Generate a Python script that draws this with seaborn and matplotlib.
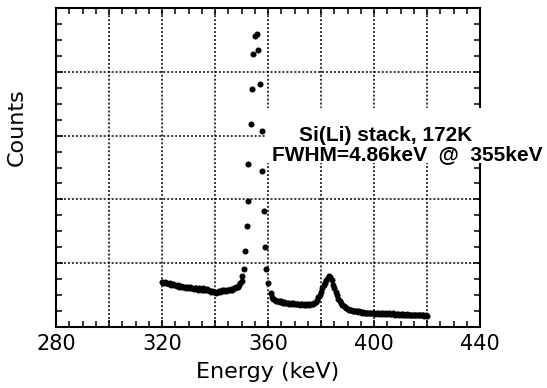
import matplotlib
matplotlib.use("Agg")
import matplotlib.pyplot as plt
from matplotlib.patches import Rectangle
from matplotlib.ticker import MultipleLocator
import seaborn as sns
import pandas as pd

# background left of the 355 keV line (keV, counts in arbitrary units)
bg_left_kev = [
    320.0, 320.5, 321.0, 321.5, 322.0, 322.5, 323.0, 323.5, 324.0, 324.5,
    325.0, 325.5, 326.0, 326.5, 327.0, 327.5, 328.0, 328.5, 329.0, 329.5,
    330.0, 330.5, 331.0, 331.5, 332.0, 332.5, 333.0, 333.5, 334.0, 334.5,
    335.0, 335.5, 336.0, 336.5, 337.0, 337.5, 338.0, 338.5, 339.0, 339.5,
    340.0, 340.5, 341.0, 341.5, 342.0, 342.5, 343.0, 343.5, 344.0, 344.5,
    345.0, 345.5, 346.0, 346.5, 347.0, 347.5, 348.0, 348.5, 349.0, 349.5,
    350.0,
]
bg_left_counts = [
    0.70, 0.69, 0.70, 0.68, 0.69, 0.67, 0.68, 0.66, 0.67, 0.65,
    0.66, 0.64, 0.65, 0.63, 0.64, 0.62, 0.63, 0.62, 0.61, 0.62,
    0.60, 0.62, 0.60, 0.61, 0.59, 0.61, 0.60, 0.58, 0.60, 0.59,
    0.58, 0.60, 0.58, 0.57, 0.59, 0.57, 0.56, 0.55, 0.56, 0.54,
    0.55, 0.53, 0.55, 0.56, 0.55, 0.57, 0.56, 0.58, 0.56, 0.57,
    0.58, 0.57, 0.59, 0.58, 0.60, 0.61, 0.62, 0.63, 0.65, 0.68,
    0.72,
]

# the photopeak itself
peak_kev = [350.2, 350.9, 351.4, 352.0, 352.4, 352.6, 353.4, 353.9, 354.5, 355.0,
            355.8, 356.1, 356.8, 357.7, 357.8, 358.4, 358.9, 359.3, 359.9, 361.2]
peak_counts = [0.80, 0.91, 1.19, 1.58, 1.97, 2.55, 3.18, 3.73, 4.29, 4.56,
               4.60, 4.35, 3.81, 3.07, 2.44, 1.82, 1.25, 0.91, 0.69, 0.53]

# background right of the line, incl. the small bump near 383 keV
bg_right_kev = [
    361.5, 362.0, 362.5, 363.0, 363.5, 364.0, 364.5, 365.0, 365.5, 366.0,
    366.5, 367.0, 367.5, 368.0, 368.5, 369.0, 369.5, 370.0, 370.5, 371.0,
    371.5, 372.0, 372.5, 373.0, 373.5, 374.0, 374.5, 375.0, 375.5, 376.0,
    376.5, 377.0, 377.5, 378.0, 378.5, 379.0, 379.5, 380.0, 380.5, 381.0,
    381.5, 382.0, 382.5, 383.0, 383.5, 384.0, 384.5, 385.0, 385.5, 386.0,
    386.5, 387.0, 387.5, 388.0, 388.5, 389.0, 389.5, 390.0, 390.5, 391.0,
    391.5, 392.0, 392.5, 393.0, 393.5, 394.0, 394.5, 395.0, 395.5, 396.0,
    396.5, 397.0, 397.5, 398.0, 398.5, 399.0, 399.5, 400.0, 400.5, 401.0,
    401.5, 402.0, 402.5, 403.0, 403.5, 404.0, 404.5, 405.0, 405.5, 406.0,
    406.5, 407.0, 407.5, 408.0, 408.5, 409.0, 409.5, 410.0, 410.5, 411.0,
    411.5, 412.0, 412.5, 413.0, 413.5, 414.0, 414.5, 415.0, 415.5, 416.0,
    416.5, 417.0, 417.5, 418.0, 418.5, 419.0, 419.5, 420.0,
]
bg_right_counts = [
    0.47, 0.44, 0.42, 0.41, 0.40, 0.41, 0.39, 0.40, 0.38, 0.39,
    0.38, 0.37, 0.38, 0.36, 0.37, 0.36, 0.37, 0.35, 0.36, 0.35,
    0.36, 0.34, 0.35, 0.36, 0.34, 0.35, 0.34, 0.35, 0.34, 0.35,
    0.35, 0.36, 0.37, 0.39, 0.42, 0.46, 0.50, 0.55, 0.60, 0.65,
    0.69, 0.73, 0.77, 0.79, 0.78, 0.73, 0.66, 0.60, 0.54, 0.49,
    0.44, 0.40, 0.37, 0.34, 0.32, 0.31, 0.29, 0.28, 0.27, 0.26,
    0.26, 0.25, 0.25, 0.24, 0.24, 0.23, 0.24, 0.23, 0.22, 0.23,
    0.22, 0.22, 0.21, 0.22, 0.21, 0.22, 0.21, 0.21, 0.20, 0.21,
    0.21, 0.20, 0.21, 0.20, 0.21, 0.20, 0.21, 0.20, 0.21, 0.20,
    0.20, 0.21, 0.20, 0.19, 0.20, 0.20, 0.19, 0.20, 0.19, 0.20,
    0.19, 0.19, 0.20, 0.19, 0.19, 0.18, 0.19, 0.19, 0.18, 0.19,
    0.18, 0.18, 0.19, 0.18, 0.18, 0.17, 0.18, 0.17,
]

x_ticks = [280, 300, 320, 340, 360, 380, 400, 420, 440]
x_tick_labels = ["280", "", "320", "", "360", "", "400", "", "440"]

annot_lines = ["Si(Li) stack, 172K", "FWHM=4.86keV  @  355keV"]

df = pd.concat([
    pd.DataFrame({"energy": bg_left_kev, "counts": bg_left_counts}),
    pd.DataFrame({"energy": peak_kev, "counts": peak_counts}),
    pd.DataFrame({"energy": bg_right_kev, "counts": bg_right_counts}),
], ignore_index=True)

sns.set_style("ticks")
plt.rcParams["font.family"] = ["DejaVu Sans"]
plt.rcParams["text.color"] = "black"
plt.rcParams["axes.labelcolor"] = "black"
plt.rcParams["xtick.color"] = "black"
plt.rcParams["ytick.color"] = "black"

fig = plt.figure(figsize=(5.47, 3.88), dpi=100)
ax = fig.add_axes([56 / 547, 1 - 326.7 / 388, 424 / 547, 318.4 / 388])

sns.scatterplot(data=df, x="energy", y="counts", color="black", s=19,
                linewidth=0, ax=ax, zorder=3)

ax.set_xlim(280, 440)
ax.set_ylim(0, 5)
ax.set_xticks(x_ticks)
ax.set_xticklabels(x_tick_labels)
ax.xaxis.set_minor_locator(MultipleLocator(5))
ax.yaxis.set_major_locator(MultipleLocator(1))
ax.yaxis.set_minor_locator(MultipleLocator(0.25))
ax.set_yticklabels([])

ax.grid(True, which="major", color="black", linestyle=(0, (1.3, 1.3)), linewidth=1.1)
ax.tick_params(which="both", direction="in", top=True, right=True, color="black", width=1.1)
ax.tick_params(which="major", length=5, labelsize=15, pad=5)
ax.tick_params(which="minor", length=4)
for sp in ax.spines.values():
    sp.set_linewidth(1.5)
    sp.set_color("black")

ax.set_xlabel("Energy (keV)", fontsize=16)
ax.set_ylabel("Counts", fontsize=16)
ax.xaxis.set_label_coords(0.5, -0.112)
ax.yaxis.set_label_coords(-0.07, 0.627)

# white backing behind the annotation (it hides grid and right frame there)
ax.add_patch(Rectangle((0.493, 0.514), 0.68, 0.173, transform=ax.transAxes,
                       facecolor="white", edgecolor="none", clip_on=False, zorder=2.6))

ax.text(404.5, 3.01, annot_lines[0], ha="center", va="center", fontsize=15,
        fontweight="bold", family="Liberation Sans", clip_on=False, zorder=4)
ax.text(412.5, 2.70, annot_lines[1], ha="center", va="center", fontsize=15,
        fontweight="bold", family="Liberation Sans", clip_on=False, zorder=4)

fig.savefig("out.png", dpi=100)
